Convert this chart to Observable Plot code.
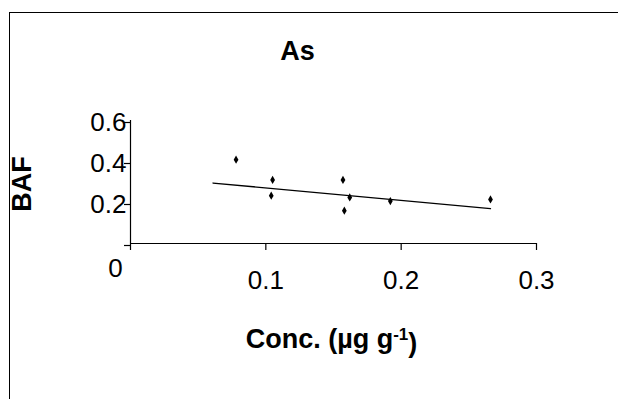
<!DOCTYPE html>
<html>
<head>
<meta charset="utf-8">
<script src="https://cdn.jsdelivr.net/npm/d3@7"></script>
<script src="https://cdn.jsdelivr.net/npm/@observablehq/plot@0.6"></script>
<style>
  html, body { margin: 0; padding: 0; background: #fff; }
  #wrap { position: relative; width: 618px; height: 399px; overflow: hidden; }
  #frame { position: absolute; left: 9px; top: 12px; width: 700px; height: 500px;
           border-left: 1.5px solid #000; border-top: 1.5px solid #000; }
  #chart { position: absolute; left: 0; top: 0; }
</style>
</head>
<body>
<div id="wrap"><div id="frame"></div><div id="chart"></div></div>
<script>
const title = "As";
const xLabel = "Conc. (µg g-1)";
const yLabel = "BAF";
const xTicks = [0, 0.1, 0.2, 0.3];
const yTicks = [0, 0.2, 0.4, 0.6];
const concX = [0.078, 0.105, 0.104, 0.157, 0.162, 0.158, 0.192, 0.266];
const bafY = [0.409, 0.310, 0.233, 0.310, 0.225, 0.160, 0.207, 0.215];
const trendX = [0.061, 0.266];
const trendY = [0.295, 0.170];

const pts = concX.map((x, i) => ({x, y: bafY[i]}));
const trend = trendX.map((x, i) => ({x, y: trendY[i]}));
const font = "Arial, 'Liberation Sans', sans-serif";

const chart = Plot.plot({
  width: 618,
  height: 399,
  marginLeft: 130,
  marginRight: 82,
  marginTop: 120,
  marginBottom: 156,
  style: {fontFamily: font, color: "#000", background: "transparent", overflow: "visible"},
  x: {domain: [0, 0.3], axis: null},
  y: {domain: [0, 0.6], axis: null},
  marks: [
    Plot.axisY(yTicks, {tickSize: 6, tickPadding: -2, fontSize: 26, dy: 2, label: null,
      tickFormat: d => d === 0 ? "" : d.toFixed(1), stroke: "#000", strokeWidth: 1.2}),
    Plot.axisX(xTicks, {tickSize: 7, tickPadding: 20, fontSize: 26, label: null,
      tickFormat: d => d === 0 ? "" : d.toFixed(1), stroke: "#000", strokeWidth: 1.2}),
    Plot.ruleX([0], {y1: 0, y2: 0.6, stroke: "#000", strokeWidth: 1.2}),
    Plot.ruleY([0], {x1: 0, x2: 0.3, stroke: "#000", strokeWidth: 1.2}),
    Plot.text([xTicks[0]], {x: d => d, y: yTicks[0], text: d => String(d), fontSize: 26,
      dx: -15, dy: 25.5, textAnchor: "middle", fill: "#000"}),
    Plot.line(trend, {x: "x", y: "y", stroke: "#000", strokeWidth: 1.3}),
    Plot.dot(pts, {x: "x", y: "y", symbol: "diamond", r: 2.5, fill: "#000", stroke: "none"}),
    Plot.text([title], {frameAnchor: "top", dx: -36, dy: -61, lineAnchor: "bottom",
      textAnchor: "middle", fontSize: 27, fontWeight: "bold", fill: "#000"}),
    Plot.text([xLabel], {frameAnchor: "bottom", dx: -2, dy: 104, lineAnchor: "bottom",
      textAnchor: "middle", fontSize: 27, fontWeight: "bold", fill: "#000"}),
    Plot.text([yLabel], {frameAnchor: "left", dx: -100, dy: 2, rotate: -90, lineAnchor: "bottom",
      textAnchor: "middle", fontSize: 27, fontWeight: "bold", fill: "#000"})
  ]
});
document.getElementById("chart").appendChild(chart);

// superscript for the unit
d3.select(chart).selectAll("text").filter(function() { return this.textContent === xLabel; })
  .each(function() {
    const t = d3.select(this);
    t.text(null);
    t.append("tspan").text("Conc. (µg g");
    t.append("tspan").attr("dy", "-0.45em").attr("font-size", "17").text("-1");
    t.append("tspan").attr("dy", "0.45em").text(")");
  });
</script>
</body>
</html>
